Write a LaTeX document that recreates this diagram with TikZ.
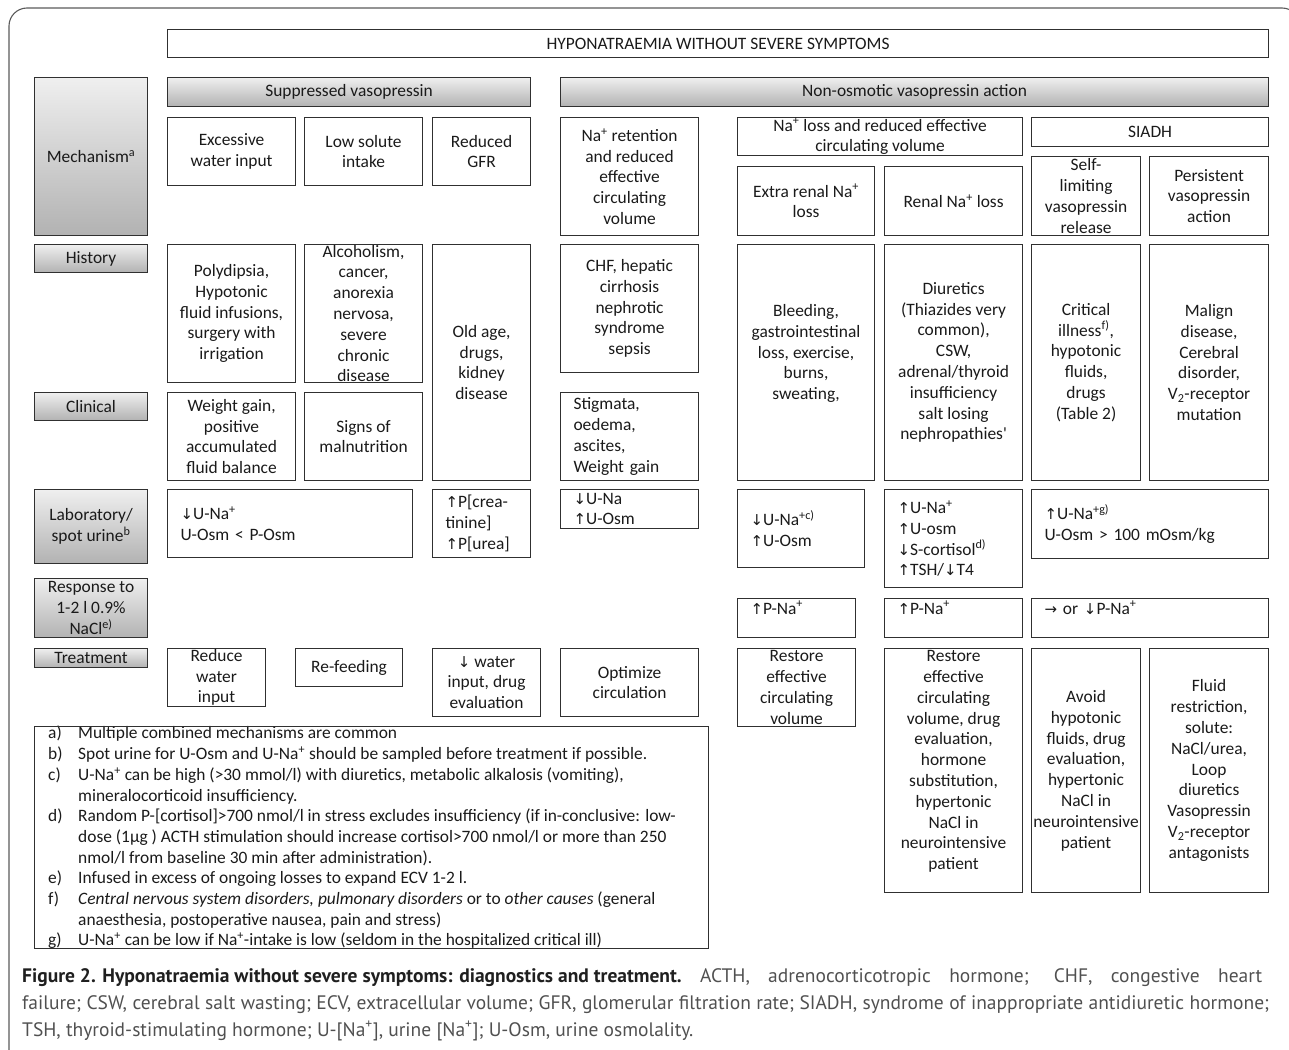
\documentclass[tikz,border=0pt]{standalone}
\usepackage{fontspec}
\setmainfont{Carlito}
\newfontfamily\bodyf{Carlito}
\newfontfamily\arrf{DejaVu Sans}
\newfontfamily\capf{PT Sans}
\definecolor{linec}{HTML}{303030}
\definecolor{txt}{HTML}{1A1A1A}
\definecolor{gtop}{HTML}{EFEFEF}
\definecolor{gbot}{HTML}{B2B2B2}
\definecolor{capc}{HTML}{505050}
\definecolor{framec}{HTML}{5A5A5A}
\newcommand\body{\bodyf\fontsize{17.4}{20.8}\selectfont}
\newcommand\fnf{\bodyf\fontsize{17.4}{20.7}\selectfont}
\newcommand\arup{{\arrf\fontsize{15}{20.8}\selectfont ↑}}
\newcommand\ardn{{\arrf\fontsize{15}{20.8}\selectfont ↓}}
\newcommand\arrt{{\arrf\fontsize{15}{20.8}\selectfont →}}
\newcommand\sps[1]{\textsuperscript{#1}}
\newcommand\cell[7]{\node[#1, minimum width={#5pt-#3pt}, minimum height={#6pt-#4pt}] (#2) at (#3,#4) {#7};}
\tikzset{
  cellbox/.style={draw=linec, line width=1.1pt, fill=white, align=center, inner sep=0pt,
    anchor=north west, font=\body, text=txt},
  hdrbox/.style={cellbox, top color=gtop, bottom color=gbot},
  lbox/.style={cellbox, align=left, inner xsep=13pt},
}
\begin{document}
\begin{tikzpicture}[x=1pt,y=-1pt]
\useasboundingbox (0,0) rectangle (1289,1049);
% outer frame
\draw[framec, line width=1.1pt, rounded corners=18pt] (9,1070) -- (9,8) -- (1300,8) -- (1300,1070);
% title and group headers
\cell{cellbox}{title}{167}{29}{1268}{57}{HYPONATRAEMIA WITHOUT SEVERE SYMPTOMS}
\cell{hdrbox}{supp}{167}{77}{530}{106}{Suppressed vasopressin}
\cell{hdrbox}{nonos}{560}{77}{1268}{106}{Non-osmotic vasopressin action}
% row labels
\cell{hdrbox}{mech}{34}{77}{147}{235}{Mechanism\sps{a}}
\cell{hdrbox}{hist}{34}{244}{147}{272}{History}
\cell{hdrbox}{clin}{34}{392}{147}{420}{Clinical}
\cell{hdrbox}{labo}{34}{489}{147}{563}{Laboratory/\\spot urine\sps{b}}
\cell{hdrbox}{resp}{34}{578}{147}{637}{Response to\\1-2 l 0.9\%\\NaCl\sps{e)}}
\cell{hdrbox}{treat}{34}{648}{147}{667}{Treatment}
% mechanism row
\cell{cellbox}{m1}{167}{117}{295}{185}{Excessive\\water input}
\cell{cellbox}{m2}{304}{117}{422}{185}{Low solute\\intake}
\cell{cellbox}{m3}{432}{117}{530}{185}{Reduced\\GFR}
\cell{cellbox}{m4}{560}{117}{698}{235}{Na\sps{+} retention\\and reduced\\effective\\circulating\\volume}
\cell{cellbox}{m5}{737}{117}{1022}{155}{Na\sps{+} loss and reduced effective\\circulating volume}
\cell{cellbox}{m6}{1031}{117}{1268}{146}{SIADH}
\cell{cellbox}{m7}{737}{166}{874}{235}{Extra renal Na\sps{+}\\loss}
\cell{cellbox}{m8}{884}{166}{1022}{235}{Renal Na\sps{+} loss}
\cell{cellbox}{m9}{1031}{156}{1140}{235}{Self-\\limiting\\vasopressin\\release}
\cell{cellbox}{m10}{1149}{156}{1268}{235}{Persistent\\vasopressin\\action}
% history row
\cell{cellbox}{h1}{167}{244}{295}{382}{Polydipsia,\\Hypotonic\\fluid infusions,\\surgery with\\irrigation}
\cell{cellbox}{h2}{304}{244}{422}{382}{Alcoholism,\\cancer,\\anorexia\\nervosa,\\severe\\chronic\\disease}
\cell{cellbox}{h3}{432}{244}{530}{480}{Old age,\\drugs,\\kidney\\disease}
\cell{cellbox}{h4}{560}{244}{698}{372}{CHF, hepatic\\cirrhosis\\nephrotic\\syndrome\\sepsis}
\cell{cellbox}{h5}{737}{244}{874}{480}{Bleeding,\\gastrointestinal\\loss, exercise,\\burns,\\sweating,\\\mbox{}}
\cell{cellbox}{h6}{884}{244}{1022}{480}{Diuretics\\(Thiazides very\\common),\\CSW,\\adrenal/thyroid\\insufficiency\\salt losing\\nephropathies'}
\cell{cellbox}{h7}{1031}{244}{1140}{480}{Critical\\illness\sps{f)},\\hypotonic\\fluids,\\drugs\\(Table 2)}
\cell{cellbox}{h8}{1149}{244}{1268}{480}{Malign\\disease,\\Cerebral\\disorder,\\V\textsubscript{2}-receptor\\mutation}
% clinical row
\cell{cellbox}{c1}{167}{392}{295}{480}{Weight gain,\\positive\\accumulated\\fluid balance}
\cell{cellbox}{c2}{304}{392}{422}{480}{Signs of\\malnutrition}
\cell{lbox,text width=112pt}{c3}{560}{392}{698}{480}{Stigmata,\\oedema,\\ascites,\\Weight gain}
% laboratory row
\cell{lbox,text width=219pt}{l1}{167}{489}{412}{557}{\ardn U-Na\sps{+}\\U-Osm < P-Osm}
\cell{lbox,text width=72pt}{l2}{432}{489}{530}{557}{\arup P[crea-\\tinine]\\\arup P[urea]}
\cell{lbox,text width=112pt}{l3}{560}{489}{698}{528}{\ardn U-Na\\\arup U-Osm}
\cell{lbox,text width=101pt}{l4}{737}{489}{864}{567}{\ardn U-Na\sps{+c)}\\\arup U-Osm}
\cell{lbox,text width=112pt}{l5}{884}{489}{1022}{587}{\arup U-Na\sps{+}\\\arup U-osm\\\ardn S-cortisol\sps{d)}\\\arup TSH/\ardn T4}
\cell{lbox,text width=211pt}{l6}{1031}{489}{1268}{558}{\arup U-Na\sps{+g)}\\U-Osm > 100 mOsm/kg}
% response row
\cell{lbox,text width=92pt}{r1}{737}{598}{855}{637}{\arup P-Na\sps{+}\\\mbox{}}
\cell{lbox,text width=112pt}{r2}{884}{598}{1022}{637}{\arup P-Na\sps{+}\\\mbox{}}
\cell{lbox,text width=211pt}{r3}{1031}{598}{1268}{637}{\arrt\ or \ardn P-Na\sps{+}\\\mbox{}}
% treatment row
\cell{cellbox}{t1}{167}{648}{265}{706}{Reduce\\water\\input}
\cell{cellbox}{t2}{295}{648}{402}{686}{Re-feeding}
\cell{cellbox}{t3}{432}{648}{540}{716}{\ardn\ water\\input, drug\\evaluation}
\cell{cellbox}{t4}{560}{648}{698}{716}{Optimize\\circulation}
\cell{cellbox}{t5}{737}{648}{855}{726}{Restore\\effective\\circulating\\volume}
\cell{cellbox}{t6}{884}{648}{1022}{892}{Restore\\effective\\circulating\\volume, drug\\evaluation,\\hormone\\substitution,\\hypertonic\\NaCl in\\neurointensive\\patient\\\mbox{}}
\cell{cellbox}{t7}{1031}{648}{1140}{892}{Avoid\\hypotonic\\fluids, drug\\evaluation,\\hypertonic\\NaCl in\\neurointensive\\patient}
\cell{cellbox}{t8}{1149}{648}{1268}{892}{Fluid\\restriction,\\solute:\\NaCl/urea,\\Loop\\diuretics\\Vasopressin\\V\textsubscript{2}-receptor\\antagonists}
% footnotes
\node[anchor=north west, align=left, inner sep=0pt, font=\fnf, text=txt] (fn) at (48,726) {%
\makebox[30pt][l]{a)}Multiple combined mechanisms are common\\
\makebox[30pt][l]{b)}Spot urine for U-Osm and U-Na\sps{+} should be sampled before treatment if possible.\\
\makebox[30pt][l]{c)}U-Na\sps{+}\ can be high (>30 mmol/l) with diuretics, metabolic alkalosis (vomiting),\\
\hspace*{30pt}mineralocorticoid insufficiency.\\
\makebox[30pt][l]{d)}Random P-[cortisol]>700 nmol/l in stress excludes insufficiency (if in-conclusive: low-\\
\hspace*{30pt}dose (1µg ) ACTH stimulation should increase cortisol>700 nmol/l or more than 250\\
\hspace*{30pt}nmol/l from baseline 30 min after administration).\\
\makebox[30pt][l]{e)}Infused in excess of ongoing losses to expand ECV 1-2 l.\\
\makebox[30pt][l]{f)}\textit{Central nervous system disorders, pulmonary disorders} or to \textit{other causes} (general\\
\hspace*{30pt}anaesthesia, postoperative nausea, pain and stress)\\
\makebox[30pt][l]{g)}U-Na\sps{+} can be low if Na\sps{+}-intake is low (seldom in the hospitalized critical ill)};
\node[draw=linec, line width=1.1pt, anchor=north west, inner sep=0pt, minimum width=674pt, minimum height=222pt] (fnbox) at (34,726) {};
% caption
\node[anchor=north west, align=left, inner sep=0pt, text=capc, font=\capf\fontsize{19.5}{27}\selectfont] (cap) at (22,968) {%
\makebox[1240pt][s]{\mbox{\bfseries\color{black!88}Figure 2. Hyponatraemia without severe symptoms: diagnostics and treatment.} ACTH, adrenocorticotropic hormone; CHF, congestive heart}\\
\makebox[1247pt][s]{failure; CSW, cerebral salt wasting; ECV, extracellular volume; GFR, glomerular filtration rate; SIADH, syndrome of inappropriate antidiuretic hormone;}\\
TSH, thyroid-stimulating hormone; U-[Na\sps{+}], urine [Na\sps{+}]; U-Osm, urine osmolality.};
\end{tikzpicture}
\end{document}
